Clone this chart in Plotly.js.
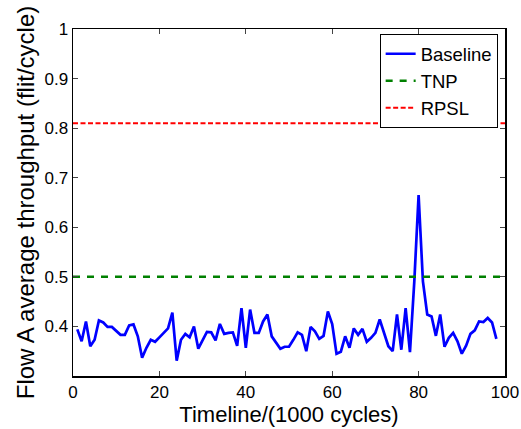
<!DOCTYPE html>
<html>
<head>
<meta charset="utf-8">
<script src="https://cdn.plot.ly/plotly-3.0.1.min.js"></script>
<style>html,body{margin:0;padding:0;background:#fff;}#chart{width:521px;height:429px;}</style>
</head>
<body>
<div id="chart"></div>
<script>
const timeline = [];
for (let i = 1; i <= 98; i++) timeline.push(i);
const baseline = [
  0.394, 0.370, 0.410, 0.360, 0.373, 0.412, 0.408, 0.399, 0.399, 0.390,
  0.383, 0.383, 0.402, 0.404, 0.380, 0.337, 0.357, 0.373, 0.369, 0.378,
  0.388, 0.396, 0.428, 0.331, 0.373, 0.385, 0.378, 0.400, 0.355, 0.373,
  0.389, 0.388, 0.372, 0.405, 0.385, 0.387, 0.388, 0.361, 0.437, 0.357,
  0.434, 0.387, 0.387, 0.410, 0.424, 0.380, 0.368, 0.355, 0.359, 0.359,
  0.373, 0.388, 0.383, 0.350, 0.399, 0.390, 0.375, 0.381, 0.430, 0.405,
  0.345, 0.349, 0.380, 0.357, 0.396, 0.383, 0.395, 0.369, 0.377, 0.387,
  0.414, 0.389, 0.360, 0.350, 0.424, 0.353, 0.437, 0.348, 0.490, 0.665,
  0.491, 0.424, 0.420, 0.381, 0.424, 0.359, 0.377, 0.387, 0.370, 0.345,
  0.361, 0.385, 0.392, 0.410, 0.409, 0.417, 0.408, 0.375
];
const tnpLevel = 0.5;
const rpslLevel = 0.81;
const lineX = [0, 100];
const tnp = [tnpLevel, tnpLevel];
const rpsl = [rpslLevel, rpslLevel];
const xTicks = [0, 20, 40, 60, 80, 100];
const yTicks = [0.4, 0.5, 0.6, 0.7, 0.8, 0.9, 1];
const yTickLabels = ['0.4', '0.5', '0.6', '0.7', '0.8', '0.9', '1'];

const traces = [
  {x: timeline, y: baseline, name: 'Baseline', mode: 'lines',
   line: {color: '#0000ff', width: 2.7}},
  {x: lineX, y: tnp, name: 'TNP', mode: 'lines',
   line: {color: '#008000', width: 2.5, dash: '7px,7px'}},
  {x: lineX, y: rpsl, name: 'RPSL', mode: 'lines',
   line: {color: '#ff0000', width: 2, dash: '5px,2.5px'}}
];

const font = {family: 'Liberation Sans, Arial, Helvetica, sans-serif', color: '#000'};
const axisCommon = {
  showline: true, linecolor: '#000', linewidth: 1.5, mirror: 'ticks',
  ticks: 'inside', ticklen: 5, tickwidth: 1, tickcolor: '#444',
  showgrid: false, zeroline: false, fixedrange: true
};
const layout = {
  width: 521, height: 429,
  margin: {l: 73, r: 16, t: 29, b: 53},
  paper_bgcolor: '#fff', plot_bgcolor: '#fff',
  font: Object.assign({size: 17}, font),
  showlegend: true,
  legend: {x: 0.983, xanchor: 'right', y: 0.985, yanchor: 'top',
    bordercolor: '#000', borderwidth: 1, bgcolor: '#fff',
    font: Object.assign({size: 18.5}, font), tracegroupgap: 0, itemwidth: 30},
  xaxis: Object.assign({}, axisCommon, {
    range: [0, 100], tickvals: xTicks, ticktext: xTicks.map(String),
    tickfont: Object.assign({size: 17}, font),
    title: {text: 'Timeline/(1000 cycles)', font: Object.assign({size: 22}, font), standoff: 1}
  }),
  yaxis: Object.assign({}, axisCommon, {
    range: [0.3, 1], tickvals: yTicks, ticktext: yTickLabels,
    tickfont: Object.assign({size: 17}, font),
    title: {text: 'Flow A average throughput (flit/cycle)', font: Object.assign({size: 24}, font), standoff: 3}
  })
};
Plotly.newPlot('chart', traces, layout, {displayModeBar: false, staticPlot: true});
</script>
</body>
</html>
